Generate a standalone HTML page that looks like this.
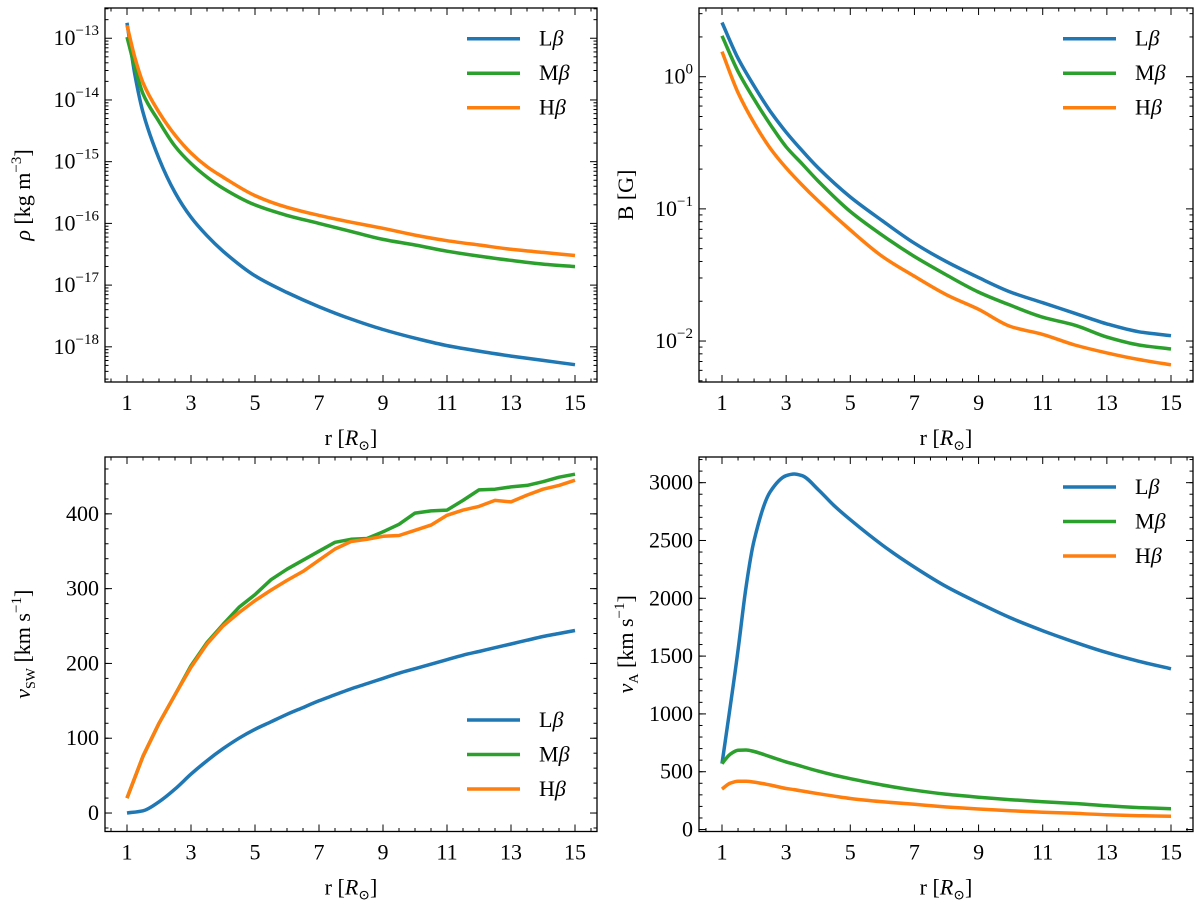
<!DOCTYPE html>
<html><head><meta charset="utf-8"><style>
html,body{margin:0;padding:0;background:#fff}
svg{display:block}
svg text{font-family:"Liberation Serif","DejaVu Serif",serif !important}
</style></head><body>
<svg id="fig" width="1200" height="901" viewBox="0 0 1200 901" xmlns="http://www.w3.org/2000/svg"></svg>
<script>
const rX = [1,1.25,1.5,2,2.5,3,3.5,4,5,6,7,8,9,10,11,12,13,14,15];
// log10 density
const rhoL = [-12.75,-13.6,-14.2,-14.95,-15.5,-15.9,-16.2,-16.45,-16.85,-17.12,-17.35,-17.55,-17.72,-17.86,-17.98,-18.07,-18.15,-18.22,-18.29];
const rhoM = [-12.98,-13.48,-13.9,-14.35,-14.75,-15.03,-15.25,-15.43,-15.7,-15.87,-16.0,-16.13,-16.26,-16.35,-16.45,-16.53,-16.6,-16.66,-16.7];
const rhoH = [-12.79,-13.32,-13.72,-14.2,-14.57,-14.86,-15.08,-15.25,-15.55,-15.74,-15.87,-15.98,-16.08,-16.19,-16.28,-16.35,-16.42,-16.47,-16.52];
// log10 B
const bX = [1,1.5,2,2.5,3,3.5,4,5,6,7,8,9,10,11,12,13,14,15];
const bL = [0.41,0.14,-0.07,-0.26,-0.42,-0.56,-0.69,-0.91,-1.09,-1.26,-1.40,-1.52,-1.63,-1.71,-1.79,-1.87,-1.93,-1.96];
const bM = [0.31,0.04,-0.17,-0.36,-0.53,-0.66,-0.79,-1.02,-1.2,-1.36,-1.5,-1.63,-1.73,-1.82,-1.88,-1.97,-2.03,-2.06];
const bH = [0.19,-0.12,-0.35,-0.54,-0.69,-0.82,-0.94,-1.16,-1.36,-1.51,-1.65,-1.76,-1.89,-1.95,-2.03,-2.09,-2.14,-2.18];
const vswX = [1,1.5,2,2.5,3,3.5,4,4.5,5,5.5,6,6.5,7,7.5,8,8.5,9,9.5,10,10.5,11,11.5,12,12.5,13,13.5,14,14.5,15];
const vswL = [0,3,15,32,52,70,86,100,112,122,132,141,150,158,166,173,180,187,193,199,205,211,216,221,226,231,236,240,244];
const vswM = [20,76,120,158,197,228,252,275,292,312,326,338,350,362,366,367,376,386,401,404,405,418,432,433,436,438,443,449,453];
const vswH = [20,76,120,158,195,226,250,268,284,298,311,323,338,353,363,366,370,371,378,385,398,405,410,418,416,425,433,438,445];
const vaX = [1,1.25,1.5,1.75,2,2.5,3,3.25,3.5,4,4.5,5,6,7,8,9,10,11,12,13,14,15];
const vaL = [570,1050,1550,2100,2500,2920,3060,3075,3060,2940,2800,2680,2460,2270,2100,1960,1830,1720,1620,1530,1455,1390];
const vaM = [570,650,685,688,675,630,585,565,545,505,470,440,385,340,305,280,258,240,225,205,190,180];
const vaH = [350,400,418,418,410,385,355,345,333,310,288,268,240,218,195,178,163,150,140,128,120,115];
const xTicks = [1,3,5,7,9,11,13,15];
const legendLabels = ["Lβ","Mβ","Hβ"];
const colors = ["#1f77b4","#2ca02c","#ff7f0e"];

const NS="http://www.w3.org/2000/svg";
const svg=document.getElementById('fig');
function mk(tag,attrs,parent){const e=document.createElementNS(NS,tag);for(const k in attrs)e.setAttribute(k,attrs[k]);(parent||svg).appendChild(e);return e;}
// monotone cubic (Fritsch-Carlson) in pixel space
function smooth(p){
  const n=p.length, dx=[], s=[], m=[];
  for(let i=0;i<n-1;i++){dx[i]=p[i+1][0]-p[i][0]; s[i]=(p[i+1][1]-p[i][1])/dx[i];}
  m[0]=s[0]; m[n-1]=s[n-2];
  for(let i=1;i<n-1;i++){
    if(s[i-1]*s[i]<=0) m[i]=0;
    else { const w1=2*dx[i]+dx[i-1], w2=dx[i]+2*dx[i-1]; m[i]=(w1+w2)/(w1/s[i-1]+w2/s[i]); }
  }
  let d='M'+p[0][0].toFixed(1)+' '+p[0][1].toFixed(1);
  for(let i=0;i<n-1;i++){
    const h=dx[i]/3;
    d+=` C${(p[i][0]+h).toFixed(1)} ${(p[i][1]+m[i]*h).toFixed(1)} ${(p[i+1][0]-h).toFixed(1)} ${(p[i+1][1]-m[i+1]*h).toFixed(1)} ${p[i+1][0].toFixed(1)} ${p[i+1][1].toFixed(1)}`;
  }
  return d;
}

function panel(o){
  const g=mk('g',{});
  
  
  const sx=v=>o.x0+(v-1)*(o.x15-o.x0)/14;
  const sy=v=>o.top+(o.ymax-v)/(o.ymax-o.ymin)*(o.bot-o.top);
  const L=o.left,R=o.right,T=o.top,B=o.bot;
  o.series.forEach((s,i)=>{
    const pts=s.y.map((v,j)=>[sx(s.x[j]),sy(v)]);
    const p=mk('path',{d:o.jagged&&i>0?pts.map((q,j)=>(j?'L':'M')+q[0].toFixed(1)+' '+q[1].toFixed(1)).join(' '):smooth(pts),fill:'none',stroke:colors[i],'stroke-width':3.5,'stroke-linejoin':'round'},g);
    
    
  });
  const fr=mk('rect',{x:L,y:T,width:R-L,height:B-T,fill:'none',stroke:'#000','stroke-width':1.3},g);
  
  
  for(let v=0.5;v<=15.7;v+=0.5){
    const x=sx(v); if(x<L||x>R) continue;
    const major=xTicks.includes(v); const len=major?7:3.5;
    mk('line',{x1:x,y1:B,x2:x,y2:B-len,stroke:'#000','stroke-width':1},g);
    mk('line',{x1:x,y1:T,x2:x,y2:T+len,stroke:'#000','stroke-width':1},g);
  }
  xTicks.forEach(v=>{
    const t=mk('text',{x:sx(v),y:B+28,'text-anchor':'middle','font-size':22},g);
    t.textContent=v;
    
    
  });
  const xl=mk('text',{x:(L+R)/2,y:B+63,'text-anchor':'middle','font-size':22},g);
  xl.innerHTML='r [<tspan font-style="italic">R</tspan><tspan font-size="14" dy="5">⊙</tspan><tspan dy="-5">]</tspan>';
  
  
  o.yticks.forEach(tk=>{
    const y=sy(tk.v);
    mk('line',{x1:L,y1:y,x2:L+7,y2:y,stroke:'#000','stroke-width':1},g);
    mk('line',{x1:R,y1:y,x2:R-7,y2:y,stroke:'#000','stroke-width':1},g);
    const t=mk('text',{x:L-6,y:y+7,'text-anchor':'end','font-size':22},g);
    t.innerHTML=tk.label;
    
    
  });
  o.minor.forEach(v=>{
    const y=sy(v); if(y<T||y>B) return;
    mk('line',{x1:L,y1:y,x2:L+3.5,y2:y,stroke:'#000','stroke-width':1},g);
    mk('line',{x1:R,y1:y,x2:R-3.5,y2:y,stroke:'#000','stroke-width':1},g);
  });
  const yl=mk('text',{transform:`translate(${o.ylx},${(T+B)/2}) rotate(-90)`,'text-anchor':'middle','font-size':22},g);
  yl.innerHTML=o.ylabel;
  
  
  const lg=mk('g',{},g);
  
  
  legendLabels.forEach((lab,i)=>{
    const y=o.legY+i*34.5;
    const e=mk('g',{},lg);
    
    
    mk('line',{x1:R-130,y1:y,x2:R-77,y2:y,stroke:colors[i],'stroke-width':3.5},e);
    const t=mk('text',{x:R-58,y:y+7,'font-size':22},e);
    t.innerHTML=lab[0]+'<tspan font-style="italic">β</tspan>';
  });
}
function logTicks(lo,hi,fmt){const t=[];for(let d=Math.ceil(lo);d<=Math.floor(hi);d++)t.push({v:d,label:fmt(d)});return t;}
function logMinor(lo,hi){const m=[];for(let d=Math.floor(lo);d<=Math.ceil(hi);d++)for(let k=2;k<10;k++)m.push(d+Math.log10(k));return m;}
const pow=d=>'10<tspan font-size="15" dy="-10">'+(d<0?'−'+(-d):d)+'</tspan>';

panel({name:'density-panel',left:105,right:597,top:8,bot:382,x0:127,x15:575,ymin:-18.57,ymax:-12.51,
  series:[{x:rX,y:rhoL},{x:rX,y:rhoM},{x:rX,y:rhoH}],
  yticks:logTicks(-18.57,-12.51,pow),minor:logMinor(-18.57,-12.51),ylx:30,legY:38.7,
  ylabel:'<tspan font-style="italic">ρ</tspan> [kg m<tspan font-size="15" dy="-9">−3</tspan><tspan dy="9">]</tspan>'});
panel({name:'magnetic-field-panel',left:699,right:1193,top:8,bot:382,x0:722,x15:1171,ymin:-2.31,ymax:0.52,
  series:[{x:bX,y:bL},{x:bX,y:bM},{x:bX,y:bH}],
  yticks:logTicks(-2.31,0.52,pow),minor:logMinor(-2.31,0.52),ylx:633,legY:38.7,
  ylabel:'B [G]'});
const lin=(a,b,s)=>{const r=[];for(let v=a;v<=b;v+=s)r.push({v:v,label:''+v});return r;};
const linMinor=(a,b,s)=>{const r=[];for(let v=a;v<=b;v+=s)r.push(v);return r;};
panel({name:'solar-wind-speed-panel',left:105,right:597,top:457,bot:831.5,x0:127,x15:575,ymin:-24.7,ymax:476,jagged:true,
  series:[{x:vswX,y:vswL},{x:vswX,y:vswM},{x:vswX,y:vswH}],
  yticks:lin(0,400,100),minor:linMinor(-20,480,20),ylx:30,legY:720,
  ylabel:'<tspan font-style="italic">v</tspan><tspan font-size="14" dy="5">SW</tspan><tspan dy="-5"> [km s</tspan><tspan font-size="15" dy="-9">−1</tspan><tspan dy="9">]</tspan>'});
panel({name:'alfven-speed-panel',left:699,right:1193,top:457,bot:831.5,x0:722,x15:1171,ymin:-17,ymax:3222,
  series:[{x:vaX,y:vaL},{x:vaX,y:vaM},{x:vaX,y:vaH}],
  yticks:lin(0,3000,500),minor:linMinor(0,3200,100),ylx:633,legY:487,
  ylabel:'<tspan font-style="italic">v</tspan><tspan font-size="14" dy="5">A</tspan><tspan dy="-5"> [km s</tspan><tspan font-size="15" dy="-9">−1</tspan><tspan dy="9">]</tspan>'});
</script>
</body></html>
